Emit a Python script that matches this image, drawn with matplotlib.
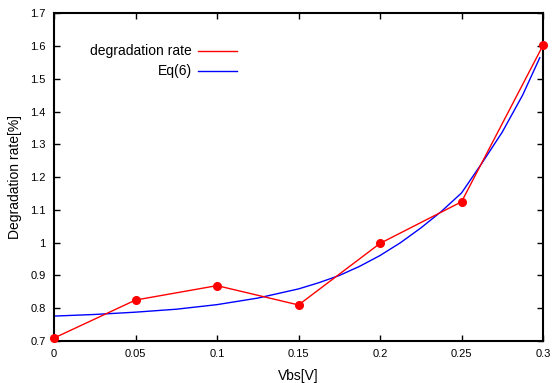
import matplotlib
matplotlib.use("Agg")
import matplotlib.pyplot as plt
from matplotlib.lines import Line2D

plt.rcParams['font.family'] = ['Liberation Sans', 'DejaVu Sans']

# measured degradation rate
vbs = [0.0, 0.05, 0.10, 0.15, 0.20, 0.25, 0.30]
rate = [0.709, 0.825, 0.869, 0.810, 0.998, 1.125, 1.603]

# Eq(6) curve
eq_x = [0.0, 0.025, 0.05, 0.075, 0.10, 0.125, 0.15, 0.1625, 0.175, 0.1875,
        0.20, 0.2125, 0.225, 0.2375, 0.25, 0.2625, 0.275, 0.2875, 0.298]
eq_y = [0.776, 0.781, 0.788, 0.797, 0.811, 0.831, 0.859, 0.878, 0.900, 0.928,
        0.961, 1.000, 1.045, 1.095, 1.152, 1.243, 1.338, 1.451, 1.565]

xticks = [0, 0.05, 0.1, 0.15, 0.2, 0.25, 0.3]
xtick_labels = ['0', '0.05', '0.1', '0.15', '0.2', '0.25', '0.3']
yticks = [0.7, 0.8, 0.9, 1.0, 1.1, 1.2, 1.3, 1.4, 1.5, 1.6, 1.7]
ytick_labels = ['0.7', '0.8', '0.9', '1', '1.1', '1.2', '1.3', '1.4', '1.5', '1.6', '1.7']

fig = plt.figure(figsize=(5.53, 3.83), dpi=100)
ax = fig.add_axes([0.0977, 0.1097, 0.8843, 0.8551])

ax.plot(eq_x, eq_y, color='#0000ff', lw=1.0, zorder=2)
ax.plot(vbs, rate, color='#ff0000', lw=1.0, zorder=3)
ax.plot(vbs, rate, 'o', color='#ff0000', ms=5.5, zorder=4, clip_on=False)

ax.set_xlim(0, 0.3)
ax.set_ylim(0.7, 1.7)
ax.set_xticks(xticks)
ax.set_xticklabels(xtick_labels)
ax.set_yticks(yticks)
ax.set_yticklabels(ytick_labels)
ax.tick_params(direction='in', top=True, right=True, length=4, width=1,
               labelsize=8, colors='black', pad=6)
for s in ax.spines.values():
    s.set_linewidth(1.5)

ax.set_xlabel('Vbs[V]', fontsize=10, labelpad=7)
ax.set_ylabel('Degradation rate[%]', fontsize=10, labelpad=6)

# gnuplot-style key
ax.text(0.282, 0.8855, 'degradation rate', transform=ax.transAxes,
        ha='right', va='center', fontsize=10)
ax.text(0.282, 0.8244, 'Eq(6)', transform=ax.transAxes,
        ha='right', va='center', fontsize=10)
ax.add_line(Line2D([0.294, 0.374], [0.8855, 0.8855], transform=ax.transAxes,
                   color='#ff0000', lw=1.0))
ax.add_line(Line2D([0.294, 0.374], [0.8244, 0.8244], transform=ax.transAxes,
                   color='#0000ff', lw=1.0))

fig.savefig('out.png', dpi=100)
